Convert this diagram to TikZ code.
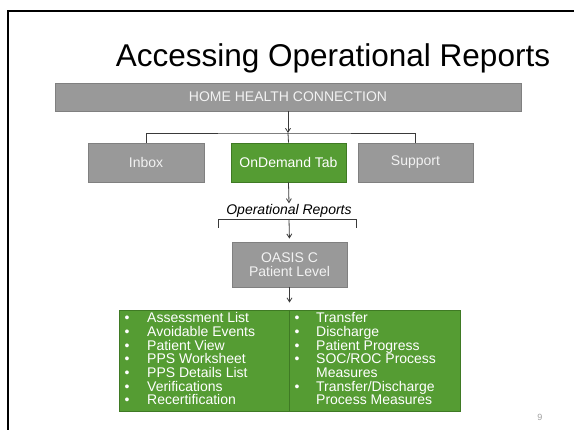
\documentclass[tikz,border=0pt]{standalone}
\usepackage{fontspec}
\setmainfont{Liberation Sans}
\usetikzlibrary{arrows.meta}
\definecolor{boxgray}{HTML}{999999}
\definecolor{boxgrayline}{HTML}{808080}
\definecolor{boxgreen}{HTML}{559C33}
\definecolor{boxgreenline}{HTML}{3F7A24}
\definecolor{linegray}{HTML}{3A3A3A}
\definecolor{lighttext}{HTML}{F2F2F2}
\definecolor{pagegray}{HTML}{A0A0A0}
\begin{document}
\begin{tikzpicture}[x=1pt,y=-1pt,
  graybox/.style={draw=boxgrayline, fill=boxgray, line width=0.8pt, text=lighttext,
    font=\fontsize{14}{13.5}\selectfont, inner sep=0pt, align=center},
  greenbox/.style={graybox, draw=boxgreenline, fill=boxgreen, text=white},
  conn/.style={draw=linegray, line width=0.8pt},
  arr/.style={conn, -{Straight Barb[length=4pt,width=5pt]}},
  listcol/.style={text=white, font=\fontsize{14}{13.67}\selectfont, inner sep=0pt, align=left, anchor=north west},
]
\useasboundingbox (0,0) rectangle (574,430);
\draw[line width=2pt] (8,431) -- (8,11) -- (575,11);

\node[anchor=base, font=\fontsize{31.5}{31.5}\selectfont] (title) at (333,67) {Accessing Operational Reports};

\node[graybox, minimum width=466pt, minimum height=28pt] (hhc) at (288,97) {HOME HEALTH CONNECTION};

\node[graybox, minimum width=116pt, minimum height=39pt] (inbox) at (146,162.5) {Inbox};
\node[greenbox, minimum width=115pt, minimum height=39pt] (ondemand) at (288.5,162.5) {OnDemand Tab};
\node[graybox, minimum width=115pt, minimum height=39pt] (support) at (415.5,162.5) {Support};

\coordinate (treejoin) at (288,133);
\draw[arr] (hhc.south) -- (treejoin);
\draw[conn] (inbox.north) |- (treejoin) -| (support.north);
\draw[conn] (treejoin) -- (ondemand.north);

\node[font=\fontsize{14}{14}\selectfont\itshape, inner sep=1pt] (oprep) at (289,211) {Operational Reports};
\draw[arr] (ondemand.south) -- (oprep.north);

\coordinate (brl) at (218,228);
\coordinate (brr) at (356,228);
\coordinate (brc) at (289,219);
\draw[conn] (brl) -- (brl |- brc) -- (brr |- brc) -- (brr);

\node[graybox, minimum width=115pt, minimum height=45pt] (oasis) at (289.5,264.5) {OASIS C\\Patient Level};
\draw[arr, shorten >=3pt] (brc) -- (oasis.north);

\node[greenbox, minimum width=341pt, minimum height=101pt] (list) at (289.5,360.5) {};
\coordinate (divtop) at (289,310);
\coordinate (divbot) at (289,411);
\draw[draw=boxgreenline, line width=0.8pt] (divtop) -- (divbot);
\draw[arr, shorten >=7pt] (oasis.south) -- (list.north);

\node[listcol] (leftcol) at (124.5,312.5) {%
\makebox[22.5pt][l]{•}Assessment List\\
\makebox[22.5pt][l]{•}Avoidable Events\\
\makebox[22.5pt][l]{•}Patient View\\
\makebox[22.5pt][l]{•}PPS Worksheet\\
\makebox[22.5pt][l]{•}PPS Details List\\
\makebox[22.5pt][l]{•}Verifications\\
\makebox[22.5pt][l]{•}Recertification};

\node[listcol] (rightcol) at (294.5,312.5) {%
\makebox[21.5pt][l]{•}Transfer\\
\makebox[21.5pt][l]{•}Discharge\\
\makebox[21.5pt][l]{•}Patient Progress\\
\makebox[21.5pt][l]{•}SOC/ROC Process\\
\hspace*{21.5pt}Measures\\
\makebox[21.5pt][l]{•}Transfer/Discharge\\
\hspace*{21.5pt}Process Measures};

\node[text=pagegray, font=\fontsize{9}{9}\selectfont] (pagenum) at (540,417) {9};
\end{tikzpicture}
\end{document}
